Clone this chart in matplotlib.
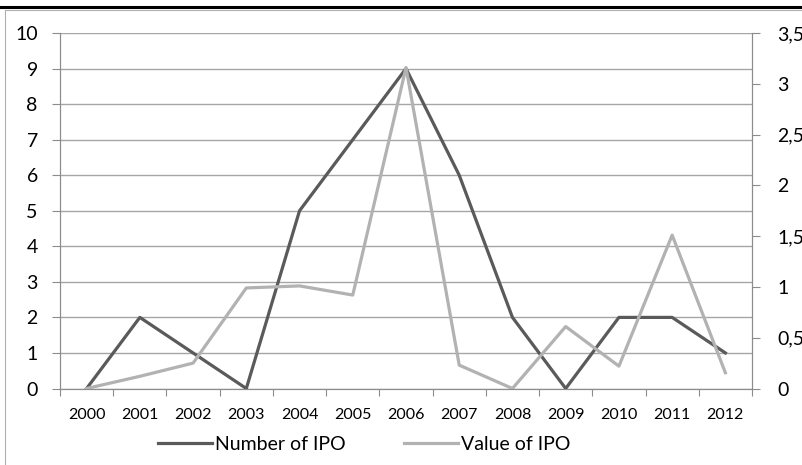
import matplotlib.pyplot as plt
from matplotlib.lines import Line2D
from matplotlib.ticker import FixedLocator

plt.rcParams['font.family'] = ['Lato', 'DejaVu Sans']

# Data
years = ['2000', '2001', '2002', '2003', '2004', '2005', '2006',
         '2007', '2008', '2009', '2010', '2011', '2012']
number_of_ipo = [0, 2, 1, 0, 5, 7, 9, 6, 2, 0, 2, 2, 1]
value_of_ipo = [0.0, 0.12, 0.25, 0.99, 1.01, 0.92, 3.16,
                0.23, 0.0, 0.61, 0.22, 1.51, 0.155]
right_ticks = [0, 0.5, 1, 1.5, 2, 2.5, 3, 3.5]
right_labels = ['0', '0,5', '1', '1,5', '2', '2,5', '3', '3,5']

axis_grey = '#8c8c8c'
dark = '#5a5a5a'
light = '#b2b2b2'

fig = plt.figure(figsize=(8.03, 4.65), dpi=100)
ax = fig.add_axes([60 / 803, 1 - 388.5 / 465, 692 / 803, 355.5 / 465])
ax2 = ax.twinx()

x = list(range(len(years)))
l1, = ax.plot(x, number_of_ipo, color=dark, linewidth=2.3, zorder=3)
l2, = ax2.plot(x, value_of_ipo, color=light, linewidth=2.3, zorder=3)

ax.set_xlim(-0.5, len(years) - 0.5)
ax.set_ylim(0, 10)
ax2.set_ylim(0, 3.5)

# left axis
ax.set_yticks(range(0, 11))
ax.yaxis.grid(True, color='#a6a6a6', linewidth=1.0)
ax.set_axisbelow(True)
ax.tick_params(axis='y', direction='out', length=6, width=0.8, color=axis_grey,
               pad=10, labelsize=14)

# x axis: labels at centers, tick marks at category boundaries
ax.set_xticks(x)
ax.set_xticklabels(years)
ax.tick_params(axis='x', which='major', length=0, pad=14, labelsize=11.5)
ax.xaxis.set_minor_locator(FixedLocator([i - 0.5 for i in range(len(years) + 1)]))
ax.tick_params(axis='x', which='minor', direction='out', length=5, width=0.8,
               color=axis_grey)

# right axis
ax2.set_yticks(right_ticks)
ax2.set_yticklabels(right_labels)
ax2.tick_params(axis='y', direction='out', length=6, width=0.8, color=axis_grey,
                pad=12, labelsize=14)

for a in (ax, ax2):
    a.spines['top'].set_visible(False)
    for s in ('left', 'right', 'bottom'):
        a.spines[s].set_color(axis_grey)
        a.spines[s].set_linewidth(0.8)

fig.legend([l1, l2], ['Number of IPO', 'Value of IPO'], loc='center',
           bbox_to_anchor=(364 / 803, 1 - 444 / 465), ncol=2, frameon=False,
           fontsize=14, handlelength=2.8, handletextpad=0.12, columnspacing=3.0)

# cropped document frame: black rule on top, grey chart border on the left
fig.add_artist(Line2D([0, 1], [1 - 7.5 / 465, 1 - 7.5 / 465], color='black',
                      linewidth=2.2, transform=fig.transFigure))
fig.add_artist(Line2D([5.5 / 803, 1], [1 - 10 / 465, 1 - 10 / 465], color='#b0b0b0',
                      linewidth=0.8, transform=fig.transFigure))
fig.add_artist(Line2D([5.5 / 803, 5.5 / 803], [0, 1 - 10 / 465], color='#b0b0b0',
                      linewidth=0.8, transform=fig.transFigure))

fig.savefig('out.png', dpi=100)
